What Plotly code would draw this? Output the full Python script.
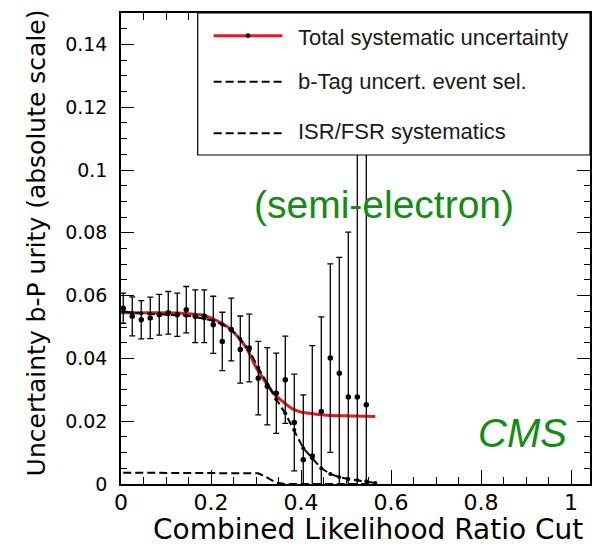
import plotly.graph_objects as go

# ---- data -------------------------------------------------------------
# likelihood-ratio cut values of the measured points
cut_x = [0.005, 0.025, 0.045, 0.065, 0.085, 0.105, 0.125, 0.145, 0.165, 0.185,
         0.205, 0.225, 0.245, 0.265, 0.285, 0.305, 0.325, 0.345, 0.365, 0.385,
         0.405, 0.425, 0.445, 0.465, 0.485, 0.505, 0.525, 0.545]
# total systematic uncertainty on the b-purity and its error
total_unc = [0.0560, 0.0534, 0.0523, 0.0529, 0.0539, 0.0545, 0.0539, 0.0555, 0.0534, 0.0534,
             0.0507, 0.0454, 0.0492, 0.0428, 0.0433, 0.0337, 0.0311, 0.0289, 0.0332, 0.0196,
             0.0077, 0.0089, 0.0231, 0.0401, 0.0353, 0.0277, 0.0277, 0.0252]
total_err = [0.0048, 0.0062, 0.0061, 0.0066, 0.0065, 0.0068, 0.0069, 0.0074, 0.0084, 0.0084,
             0.0091, 0.0093, 0.0100, 0.0107, 0.0108, 0.0117, 0.0123, 0.0128, 0.0139, 0.0154,
             0.0207, 0.0352, 0.0301, 0.0300, 0.0369, 0.0525, 0.1400, 0.1400]

# smooth fit through the total uncertainty
fit_x = [0.0, 0.05, 0.10, 0.15, 0.18, 0.20, 0.22, 0.24, 0.26, 0.28, 0.30, 0.32,
         0.34, 0.36, 0.38, 0.40, 0.42, 0.45, 0.50, 0.565]
fit_y = [0.0545, 0.0545, 0.0545, 0.0542, 0.0538, 0.0529, 0.0515, 0.0497, 0.0468, 0.0430,
         0.0372, 0.0327, 0.0287, 0.0262, 0.0240, 0.0229, 0.0225, 0.0220, 0.0217, 0.0215]

# individual contributions
syst_x = [0.005, 0.025, 0.045, 0.065, 0.085, 0.105, 0.125, 0.145, 0.165, 0.185,
          0.205, 0.225, 0.245, 0.265, 0.285, 0.305, 0.325, 0.345, 0.365, 0.385,
          0.405, 0.425, 0.445, 0.465, 0.485, 0.505, 0.525, 0.545, 0.565]
isr_fsr = [0.0550, 0.0545, 0.0543, 0.0542, 0.0541, 0.0540, 0.0538, 0.0536, 0.0532, 0.0527,
           0.0520, 0.0508, 0.0490, 0.0462, 0.0425, 0.0370, 0.0318, 0.0270, 0.0225, 0.0172,
           0.0114, 0.0082, 0.0050, 0.0032, 0.0022, 0.0016, 0.0012, 0.0009, 0.0003]
btag_sel = [0.0036, 0.0036, 0.0036, 0.0036, 0.0036, 0.0036, 0.0036, 0.0036, 0.0036, 0.0036,
            0.0036, 0.0036, 0.0036, 0.0036, 0.0036, 0.0034, 0.0020, 0.0004, 0.0, 0.0,
            0.0, 0.0, 0.0, 0.0, 0.0, 0.0, 0.0, 0.0, 0.0]

legend_labels = ["Total systematic uncertainty", "b-Tag uncert. event sel.", "ISR/FSR systematics"]

# ---- styling ------------------------------------------------------------
RED = "#dd1c24"
GREEN = "#128c12"
AXIS_FONT = "DejaVu Sans"
TEXT_FONT = "Liberation Sans"
DASH = "8px,4px"

fig = go.Figure()

fig.add_trace(go.Scatter(x=fit_x, y=fit_y, mode="lines",
                         line=dict(color=RED, width=3, shape="spline"),
                         name=legend_labels[0], showlegend=False))
fig.add_trace(go.Scatter(x=syst_x, y=btag_sel, mode="lines",
                         line=dict(color="black", width=2, dash=DASH),
                         name=legend_labels[1], showlegend=False))
fig.add_trace(go.Scatter(x=syst_x, y=isr_fsr, mode="lines+markers",
                         line=dict(color="black", width=2, dash=DASH),
                         marker=dict(color="black", size=4),
                         name=legend_labels[2], showlegend=False))
fig.add_trace(go.Scatter(x=cut_x, y=total_unc, mode="markers",
                         marker=dict(color="black", size=5.5),
                         error_y=dict(type="data", array=total_err, color="black",
                                      thickness=1.3, width=3),
                         name=legend_labels[0] + " (points)", showlegend=False))

# ---- legend box drawn in paper coordinates --------------------------------
L_X0, L_X1, L_Y0, L_Y1 = 0.1635, 1.0, 0.6985, 1.0
S_X0, S_X1 = 0.1975, 0.344
ROW_Y = [0.9518, 0.8542, 0.7446]
TXT_Y = [0.9490, 0.8542, 0.7480]

shapes = [
    dict(type="rect", xref="paper", yref="paper", x0=L_X0, x1=L_X1, y0=L_Y0, y1=L_Y1,
         fillcolor="white", line=dict(color="black", width=1.2), layer="above"),
    dict(type="line", xref="paper", yref="paper", x0=S_X0, x1=S_X1, y0=ROW_Y[0], y1=ROW_Y[0],
         line=dict(color=RED, width=3), layer="above"),
    dict(type="circle", xref="paper", yref="paper",
         x0=(S_X0 + S_X1) / 2 - 0.005, x1=(S_X0 + S_X1) / 2 + 0.005,
         y0=ROW_Y[0] - 0.005, y1=ROW_Y[0] + 0.005,
         fillcolor="black", line=dict(color="black", width=0), layer="above"),
    dict(type="line", xref="paper", yref="paper", x0=S_X0, x1=S_X1, y0=ROW_Y[1], y1=ROW_Y[1],
         line=dict(color="black", width=2, dash=DASH), layer="above"),
    dict(type="line", xref="paper", yref="paper", x0=S_X0, x1=S_X1, y0=ROW_Y[2], y1=ROW_Y[2],
         line=dict(color="black", width=2, dash=DASH), layer="above"),
]

annotations = []
for label, ty in zip(legend_labels, TXT_Y):
    annotations.append(dict(text=label, xref="paper", yref="paper", x=0.3737, y=ty,
                            xanchor="left", yanchor="middle", showarrow=False,
                            font=dict(family=TEXT_FONT, size=22, color="#1a1a1a")))

annotations += [
    dict(text="(semi-electron)", xref="paper", yref="paper", x=0.5605, y=0.5924,
         xanchor="center", yanchor="middle", showarrow=False,
         font=dict(family=TEXT_FONT, size=39, color=GREEN)),
    dict(text="<i>CMS</i>", xref="paper", yref="paper", x=0.8556, y=0.1083,
         xanchor="center", yanchor="middle", showarrow=False,
         font=dict(family=TEXT_FONT, size=40, color=GREEN)),
    dict(text="Combined Likelihood Ratio Cut", xref="paper", yref="paper",
         x=0.5265, y=-0.0975, xanchor="center", yanchor="middle", showarrow=False,
         font=dict(family=AXIS_FONT, size=28, color="black")),
    dict(text="Uncertainty b-P urity (absolute scale)", xref="paper", yref="paper",
         x=-0.1794, y=0.5127, xanchor="center", yanchor="middle", showarrow=False,
         textangle=-90, font=dict(family=AXIS_FONT, size=25, color="black")),
]

axis_common = dict(showgrid=False, zeroline=False, showline=True, linecolor="black",
                   linewidth=1.5, mirror="ticks", ticks="inside", tickcolor="black",
                   tickwidth=1.2)

fig.update_layout(
    width=599, height=545,
    margin=dict(l=121, r=7, t=13, b=61),
    paper_bgcolor="white", plot_bgcolor="white",
    showlegend=False,
    shapes=shapes, annotations=annotations,
    xaxis=dict(range=[0, 1.042], tickvals=[0, 0.2, 0.4, 0.6, 0.8, 1.0],
               ticktext=["0", "0.2", "0.4", "0.6", "0.8", "1"],
               ticklen=14, ticklabelstandoff=-2,
               minor=dict(dtick=0.05, tick0=0, ticklen=7, ticks="inside",
                          tickcolor="black", tickwidth=1),
               tickfont=dict(family=AXIS_FONT, size=22, color="black"),
               **axis_common),
    yaxis=dict(range=[0, 0.15], tick0=0, dtick=0.02,
               ticklen=13, ticklabelstandoff=8,
               minor=dict(dtick=0.005, tick0=0, ticklen=6, ticks="inside",
                          tickcolor="black", tickwidth=1),
               tickfont=dict(family=AXIS_FONT, size=19, color="black"),
               **axis_common),
)

fig.write_html("out.html")
